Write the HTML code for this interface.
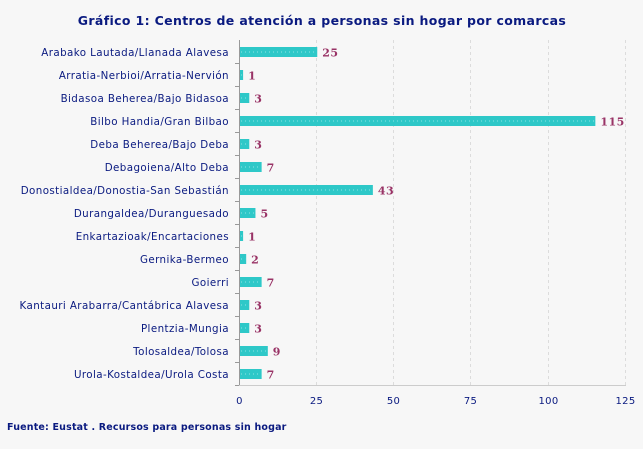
<!DOCTYPE html>
<html><head><meta charset="utf-8"><style>
body{margin:0;background:#f7f7f7;}
svg{display:block;font-family:"DejaVu Sans","Liberation Sans",sans-serif;}
</style></head><body>
<svg width="643" height="449" viewBox="0 0 643 449">
<rect width="643" height="449" fill="#f7f7f7"/>
<text x="322" y="25" text-anchor="middle" font-size="12.5" font-weight="bold" fill="#0a1a80" letter-spacing="0.35">Gráfico 1: Centros de atención a personas sin hogar por comarcas</text>
<g stroke="#dcdcdc" stroke-dasharray="3,3">
<line x1="316.5" y1="40" x2="316.5" y2="385"/>
<line x1="393.5" y1="40" x2="393.5" y2="385"/>
<line x1="470.5" y1="40" x2="470.5" y2="385"/>
<line x1="548.5" y1="40" x2="548.5" y2="385"/>
<line x1="625.5" y1="40" x2="625.5" y2="385"/>
</g>
<line x1="239.5" y1="40" x2="239.5" y2="386" stroke="#999"/>
<line x1="239" y1="385.5" x2="626" y2="385.5" stroke="#ccc"/>
<g font-size="10" fill="#0a1a80" text-anchor="middle" letter-spacing="0.3">
<text x="239.5" y="404">0</text><text x="316.5" y="404">25</text><text x="393.5" y="404">50</text><text x="470.5" y="404">75</text><text x="548.5" y="404">100</text><text x="625.5" y="404">125</text>
</g>
<text x="7" y="430" font-size="9.5" font-weight="bold" fill="#0a1a80" letter-spacing="0.18">Fuente: Eustat . Recursos para personas sin hogar</text>
<g id="bars"></g>
</svg>
<script>
var d=[["Arabako Lautada/Llanada Alavesa",25],["Arratia-Nerbioi/Arratia-Nervión",1],["Bidasoa Beherea/Bajo Bidasoa",3],["Bilbo Handia/Gran Bilbao",115],["Deba Beherea/Bajo Deba",3],["Debagoiena/Alto Deba",7],["Donostialdea/Donostia-San Sebastián",43],["Durangaldea/Duranguesado",5],["Enkartazioak/Encartaciones",1],["Gernika-Bermeo",2],["Goierri",7],["Kantauri Arabarra/Cantábrica Alavesa",3],["Plentzia-Mungia",3],["Tolosaldea/Tolosa",9],["Urola-Kostaldea/Urola Costa",7]];
var s='';d.forEach(function(r,i){var y=52+i*23;var w=r[1]*3.09;
s+='<text x="229" y="'+(y+4)+'" text-anchor="end" fill="#0a1a80" font-size="10.3" letter-spacing="0.41">'+r[0]+'</text>';
s+='<line x1="235" y1="'+(y+11.5)+'" x2="239" y2="'+(y+11.5)+'" stroke="#999"/>';
s+='<rect x="240" y="'+(y-5)+'" width="'+w+'" height="10" fill="#2ec8c8"/>';
s+='<line x1="241" y1="'+(y)+'" x2="'+(239+w)+'" y2="'+y+'" stroke="#8fe3e3" stroke-dasharray="1,3"/>';
s+='<text x="'+(245+w)+'" y="'+(y+4.5)+'" fill="#993366" font-weight="bold" font-size="11" font-family="DejaVu Serif,serif" letter-spacing="0.5">'+r[1]+'</text>';});
document.getElementById('bars').innerHTML=s;
</script>
</body></html>
